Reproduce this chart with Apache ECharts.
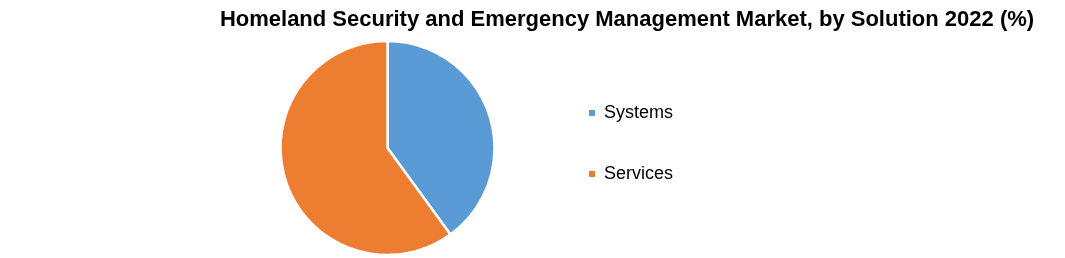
<!DOCTYPE html>
<html>
<head>
<meta charset="utf-8">
<script src="https://cdn.jsdelivr.net/npm/echarts@6/dist/echarts.min.js"></script>
<style>
html,body{margin:0;padding:0;background:#fff;}
#chart{width:1065px;height:258px;}
</style>
</head>
<body>
<div id="chart"></div>
<script>
const titleText = 'Homeland Security and Emergency Management Market, by Solution 2022 (%)';
const categories = ['Systems', 'Services'];
const values = [40, 60];
const colors = ['#5B9BD5', '#ED7D31'];

const chart = echarts.init(document.getElementById('chart'), null, {renderer: 'canvas'});
chart.setOption({
  animation: false,
  backgroundColor: '#ffffff',
  color: colors,
  title: {
    text: titleText,
    left: 622,
    textAlign: 'center',
    top: 4,
    textStyle: {
      fontFamily: 'Liberation Sans, sans-serif',
      fontWeight: 'bold',
      fontSize: 22,
      color: '#000'
    }
  },
  legend: {
    orient: 'vertical',
    left: 582,
    top: 99,
    itemWidth: 8,
    itemHeight: 8,
    itemGap: 43,
    icon: 'rect',
    textStyle: {
      fontFamily: 'Liberation Sans, sans-serif',
      fontSize: 18,
      color: '#000',
      padding: [0, 0, 0, 3]
    },
    data: categories
  },
  series: [{
    type: 'pie',
    center: [387.5, 148],
    radius: 107,
    startAngle: 90,
    clockwise: true,
    label: {show: false},
    labelLine: {show: false},
    itemStyle: {borderColor: '#fff', borderWidth: 2.5},
    data: categories.map((c, i) => ({name: c, value: values[i]}))
  }]
});
</script>
</body>
</html>
